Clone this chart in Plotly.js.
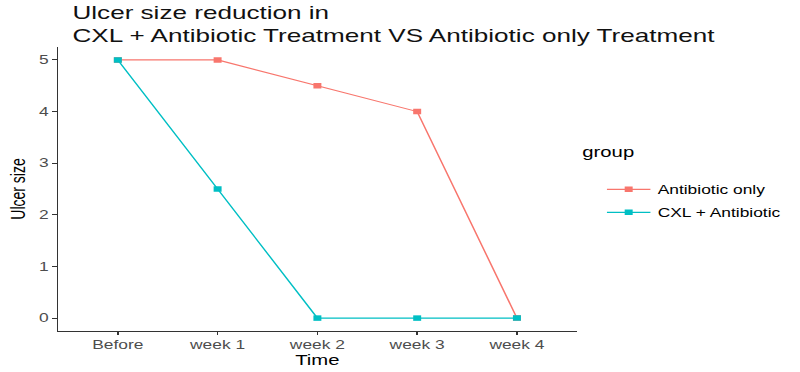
<!DOCTYPE html>
<html><head><meta charset="utf-8">
<script src="https://cdn.plot.ly/plotly-3.0.1.min.js"></script>
<style>
html,body{margin:0;padding:0;background:#fff;overflow:hidden;width:800px;height:372px}
/* the reference image is a horizontally stretched ggplot; reproduce that stretch */
#c{width:552px;height:372px;transform:scaleX(1.44928);transform-origin:0 0}
</style>
</head><body><div id="c"></div>
<script>
const categories = ["Before", "week 1", "week 2", "week 3", "week 4"];
const antibioticOnly = [5, 5, 4.5, 4, 0];
const cxlAntibiotic = [5, 2.5, 0, 0, 0];
const seriesNames = ["Antibiotic only", "CXL + Antibiotic"];
const yTicks = [0, 1, 2, 3, 4, 5];

const font = "Liberation Sans, Arial, sans-serif";
const W = 552;
const traces = [
  {x: categories, y: antibioticOnly, name: seriesNames[0], legendgroup: "a", type: "scatter", mode: "lines+markers",
   line: {color: "#F8766D", width: 1.1}, marker: {symbol: "square", size: 5.5, color: "#F8766D"}},
  {x: categories, y: cxlAntibiotic, name: seriesNames[1], legendgroup: "b", type: "scatter", mode: "lines+markers",
   line: {color: "#00BFC4", width: 1.1}, marker: {symbol: "square", size: 5.5, color: "#00BFC4"}}
];
const layout = {
  width: W, height: 372,
  margin: {l: 40, r: 154, t: 47, b: 41, autoexpand: false},
  paper_bgcolor: "#fff", plot_bgcolor: "#fff",
  font: {family: font, color: "#000"},
  title: {text: "Ulcer size reduction in<br>CXL + Antibiotic Treatment VS Antibiotic only Treatment",
    x: 50/W, xanchor: "left", xref: "container", y: 1 - 19/372, yanchor: "top", yref: "container",
    font: {size: 18, family: font, color: "#111"}},
  xaxis: {type: "category", range: [-0.6, 4.6], showgrid: false, zeroline: false, automargin: false,
    showline: true, linecolor: "#333", linewidth: 1.1, ticks: "outside", ticklen: 3, tickcolor: "#333",
    tickfont: {size: 12, color: "#4d4d4d", family: font},
    title: {text: "Time", font: {size: 14, color: "#000", family: font}, standoff: 0}},
  yaxis: {range: [-0.25, 5.25], tickvals: yTicks, showgrid: false, zeroline: false, automargin: false,
    showline: true, linecolor: "#333", linewidth: 1, ticks: "outside", ticklen: 3, tickcolor: "#333",
    tickfont: {size: 12, color: "#4d4d4d", family: font},
    title: {text: "Ulcer size", font: {size: 14, color: "#000", family: font}, standoff: 5}},
  legend: {x: 1.005, xanchor: "left", y: 0.678, yanchor: "top", indentation: 14,
    title: {text: "group<br>&nbsp;", font: {size: 14, family: font, color: "#000"}},
    font: {size: 12, family: font, color: "#000"}, tracegroupgap: 4},
  showlegend: true
};
Plotly.newPlot("c", traces, layout, {displayModeBar: false, staticPlot: true});
</script></body></html>
